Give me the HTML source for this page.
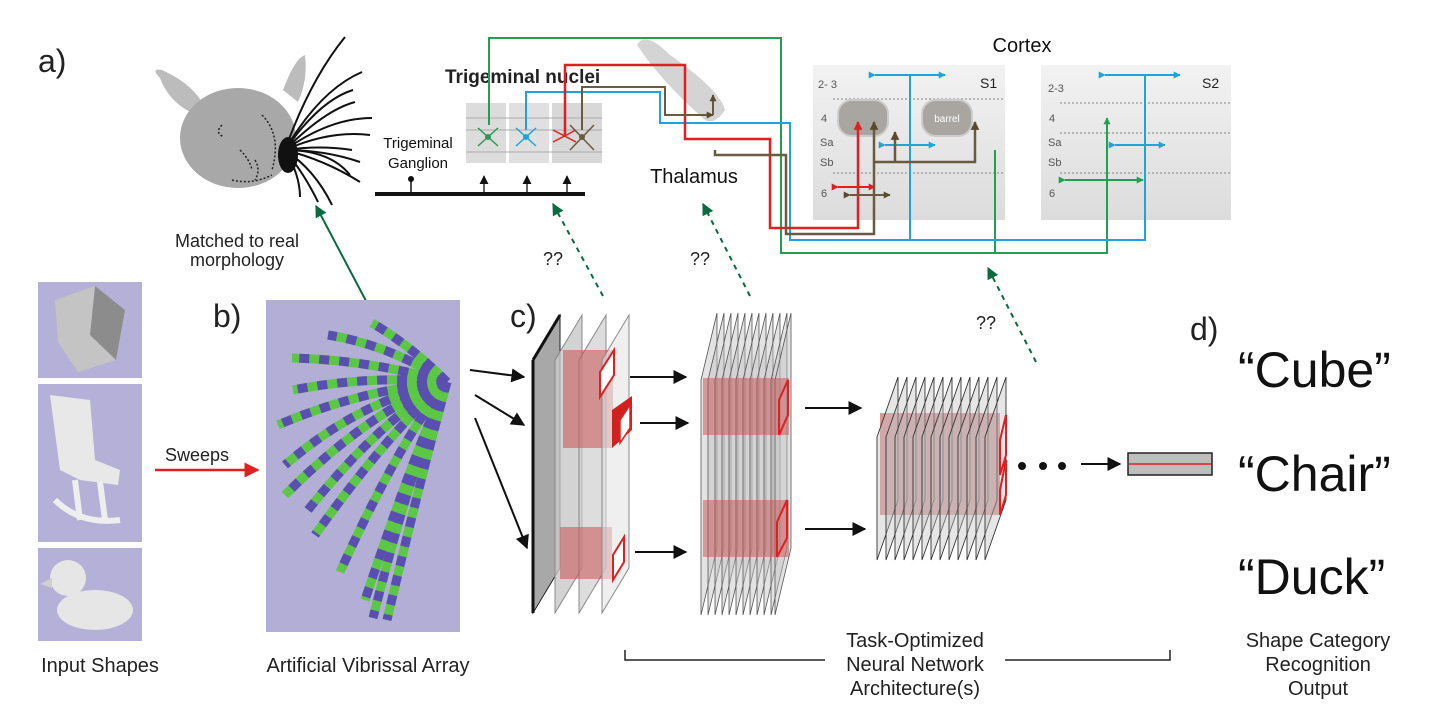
<!DOCTYPE html>
<html><head><meta charset="utf-8"><style>
html,body{margin:0;padding:0;background:#fff;}
svg{display:block;font-family:"Liberation Sans",Arial,sans-serif;}
</style></head><body>
<svg width="1436" height="722" viewBox="0 0 1436 722" xmlns="http://www.w3.org/2000/svg">
<defs>
<marker id="ak" viewBox="0 0 10 10" refX="9" refY="5" markerWidth="7" markerHeight="7" orient="auto"><path d="M0,0L10,5L0,10z" fill="#111"/></marker>
<marker id="ar" viewBox="0 0 10 10" refX="9" refY="5" markerWidth="6" markerHeight="6" orient="auto"><path d="M0,0L10,5L0,10z" fill="#e02020"/></marker>
<marker id="ag" viewBox="0 0 10 10" refX="9" refY="5" markerWidth="6" markerHeight="6" orient="auto"><path d="M0,0L10,5L0,10z" fill="#0a6a40"/></marker>
<marker id="ab" viewBox="0 0 10 10" refX="9" refY="5" markerWidth="3.5" markerHeight="3.5" orient="auto"><path d="M0,0L10,5L0,10z" fill="#1fa3d8"/></marker>
<marker id="abr" viewBox="0 0 10 10" refX="9" refY="5" markerWidth="3.5" markerHeight="3.5" orient="auto"><path d="M0,0L10,5L0,10z" fill="#5a4a30"/></marker>
<marker id="agr" viewBox="0 0 10 10" refX="9" refY="5" markerWidth="3.5" markerHeight="3.5" orient="auto"><path d="M0,0L10,5L0,10z" fill="#20a050"/></marker>
<marker id="arr" viewBox="0 0 10 10" refX="9" refY="5" markerWidth="3.5" markerHeight="3.5" orient="auto"><path d="M0,0L10,5L0,10z" fill="#e02020"/></marker>
<linearGradient id="cg" x1="0" y1="0" x2="0" y2="1"><stop offset="0" stop-color="#f2f2f2"/><stop offset="1" stop-color="#dcdcdc"/></linearGradient>
</defs>

<text x="38" y="72" font-size="32" fill="#222">a)</text>

<!-- rat head -->
<path d="M160,78 Q150,68 162,70 Q195,85 205,108 L190,112 Q168,100 160,78z" fill="#bcbcbc"/>
<path d="M283,90 Q295,58 305,55 Q308,80 298,102z" fill="#bcbcbc"/>
<ellipse cx="238" cy="138" rx="58" ry="50" fill="#a8a8a8"/>
<g stroke="#222" stroke-width="1.5" stroke-dasharray="2 2" fill="none">
<path d="M222,125 q-8,8 2,12 M240,150 q10,10 12,20 M255,160 q6,10 0,20 M262,115 q20,20 10,55 M232,180 q20,5 40,-5"/>
</g>
<g stroke="#111" stroke-width="2" fill="none">
<path d="M285,150 Q310,80 345,37"/><path d="M285,150 Q320,90 362,72"/><path d="M285,150 Q320,100 353,90"/>
<path d="M285,150 Q325,110 355,102"/><path d="M285,150 Q330,118 372,118"/><path d="M285,150 Q330,130 370,135"/>
<path d="M285,150 Q320,145 352,150"/><path d="M285,150 Q325,150 360,162"/><path d="M285,150 Q325,160 360,182"/>
<path d="M285,150 Q315,170 332,205"/><path d="M285,150 Q305,175 318,202"/><path d="M285,150 Q300,175 300,197"/>
<path d="M285,150 Q330,150 350,175"/>
</g>
<ellipse cx="288" cy="155" rx="10" ry="18" fill="#111"/>

<text x="237" y="247" font-size="18" text-anchor="middle" fill="#222">Matched to real</text>
<text x="237" y="266" font-size="18" text-anchor="middle" fill="#222">morphology</text>
<line x1="375" y1="318" x2="316" y2="206" stroke="#0a6a40" stroke-width="2" marker-end="url(#ag)"/>

<text x="445" y="83" font-size="19" font-weight="bold" fill="#222">Trigeminal nuclei</text>
<rect x="466" y="103" width="40" height="60" fill="#dcdcdc"/>
<rect x="509" y="103" width="40" height="60" fill="#e0e0e0"/>
<rect x="552" y="103" width="50" height="60" fill="#d8d8d8"/>
<g stroke="#aaa" stroke-width="1"><line x1="466" y1="118" x2="602" y2="118"/><line x1="466" y1="130" x2="602" y2="130"/><line x1="466" y1="152" x2="602" y2="152"/></g>
<text x="418" y="148" font-size="15" text-anchor="middle" fill="#111">Trigeminal</text>
<text x="418" y="168" font-size="15" text-anchor="middle" fill="#111">Ganglion</text>
<rect x="375" y="192" width="210" height="4" fill="#111"/>
<line x1="411" y1="192" x2="411" y2="180" stroke="#111" stroke-width="1.5"/><circle cx="411" cy="179" r="3" fill="#111"/>
<g stroke="#111" stroke-width="1.3" marker-end="url(#ak)"><line x1="484" y1="192" x2="484" y2="176"/><line x1="527" y1="192" x2="527" y2="176"/><line x1="567" y1="192" x2="567" y2="176"/></g>
<g stroke="#2a9a55" stroke-width="1.5"><line x1="478" y1="128" x2="498" y2="146"/><line x1="498" y1="128" x2="478" y2="146"/></g><circle cx="488" cy="137" r="3" fill="#2a9a55"/>
<g stroke="#1fa3d8" stroke-width="1.5"><line x1="516" y1="128" x2="536" y2="146"/><line x1="536" y1="128" x2="516" y2="146"/></g><circle cx="526" cy="137" r="3" fill="#1fa3d8"/>
<g stroke="#e02020" stroke-width="1.5"><line x1="553" y1="130" x2="576" y2="142"/><line x1="553" y1="142" x2="576" y2="130"/></g>
<g stroke="#6a5a40" stroke-width="1.5"><line x1="570" y1="125" x2="594" y2="150"/><line x1="594" y1="125" x2="570" y2="150"/></g><circle cx="582" cy="137" r="3" fill="#6a5a40"/>

<path d="M637,45 Q645,30 670,55 Q720,90 725,110 Q715,125 705,120 Q660,80 637,45z" fill="#d4d4d4"/>
<text x="694" y="183" font-size="20" text-anchor="middle" fill="#111">Thalamus</text>
<text x="1022" y="52" font-size="20" text-anchor="middle" fill="#111">Cortex</text>

<rect x="813" y="65" width="192" height="155" fill="url(#cg)"/>
<rect x="1041" y="65" width="190" height="155" fill="url(#cg)"/>
<g stroke="#999" stroke-width="1.3" stroke-dasharray="2 2">
<line x1="833" y1="99" x2="1005" y2="99"/><line x1="833" y1="173" x2="1005" y2="173"/>
<line x1="1060" y1="103" x2="1231" y2="103"/><line x1="1060" y1="133" x2="1231" y2="133"/><line x1="1060" y1="173" x2="1231" y2="173"/>
</g>
<g font-size="11" fill="#555">
<text x="818" y="88">2- 3</text><text x="821" y="122">4</text><text x="820" y="146">Sa</text><text x="820" y="166">Sb</text><text x="821" y="197">6</text>
<text x="1048" y="92">2-3</text><text x="1049" y="122">4</text><text x="1048" y="146">Sa</text><text x="1048" y="166">Sb</text><text x="1049" y="197">6</text>
</g>
<text x="980" y="88" font-size="14" fill="#222">S1</text>
<text x="1202" y="88" font-size="14" fill="#222">S2</text>
<rect x="838" y="100" width="50" height="36" rx="14" fill="#a9a5a0" stroke="#ccc" stroke-width="2"/>
<rect x="922" y="100" width="50" height="36" rx="14" fill="#a9a5a0" stroke="#ccc" stroke-width="2"/>
<text x="947" y="122" font-size="10" text-anchor="middle" fill="#fff">barrel</text>

<g fill="none" stroke-width="2">
<path d="M489,125 V38 H781 V253 H1107 V118" stroke="#20a050" marker-end="url(#agr)"/>
<path d="M995,253 V150" stroke="#20a050"/>
<path d="M1065,180 H1143" stroke="#20a050" marker-start="url(#agr)" marker-end="url(#agr)"/>
<path d="M526,130 V92 H660 V123 H790 V240 H1145 V75" stroke="#1fa3d8"/>
<path d="M910,240 V75" stroke="#1fa3d8"/>
<path d="M875,75 H945" stroke="#1fa3d8" marker-start="url(#ab)" marker-end="url(#ab)"/>
<path d="M1105,75 H1180" stroke="#1fa3d8" marker-start="url(#ab)" marker-end="url(#ab)"/>
<path d="M885,145 H935" stroke="#1fa3d8" marker-start="url(#ab)" marker-end="url(#ab)"/>
<path d="M1115,145 H1165" stroke="#1fa3d8" marker-start="url(#ab)" marker-end="url(#ab)"/>
<path d="M565,135 V65 H685 V139 H770 V228 H858 V122" stroke="#e02020" stroke-width="2.5" marker-end="url(#arr)"/>
<path d="M838,187 H875" stroke="#e02020" marker-start="url(#arr)" marker-end="url(#arr)"/>
<path d="M582,130 V87 H665 V115 H713" stroke="#6a5a40" marker-end="url(#abr)"/>
<path d="M713,115 V95" stroke="#6a5a40" marker-end="url(#abr)"/>
<path d="M715,150 V155 H786 V234 H874 V122" stroke="#6a5a40" stroke-width="2.5" marker-end="url(#abr)"/>
<path d="M874,162 H975 V122" stroke="#6a5a40" stroke-width="2.5" marker-end="url(#abr)"/>
<path d="M895,162 V132" stroke="#6a5a40" stroke-width="2.5" marker-end="url(#abr)"/>
<path d="M850,195 H890" stroke="#6a5a40" marker-start="url(#abr)" marker-end="url(#abr)"/>
</g>

<g stroke="#0a6a40" stroke-width="2" stroke-dasharray="5 5" marker-end="url(#ag)">
<line x1="603" y1="296" x2="553" y2="204"/><line x1="750" y1="296" x2="703" y2="204"/><line x1="1036" y1="362" x2="988" y2="268"/>
</g>
<g font-size="18" fill="#222"><text x="543" y="265">??</text><text x="690" y="265">??</text><text x="976" y="329">??</text></g>

<rect x="38" y="282" width="104" height="96" fill="#b4b0d8"/>
<path d="M55,300 L95,286 L125,310 L116,360 L78,372 L58,342z" fill="#c4c4c4"/>
<path d="M95,286 L125,310 L116,360 L90,335z" fill="#8c8c8c"/>
<rect x="38" y="384" width="104" height="158" fill="#b4b0d8"/>
<path d="M50,395 L90,400 L95,460 L120,470 L118,485 L80,480 L60,470 Z" fill="#e8e8e8"/>
<path d="M55,500 Q80,525 120,520 M75,480 L80,520 M100,482 L105,520" stroke="#eee" stroke-width="6" fill="none"/>
<rect x="38" y="548" width="104" height="93" fill="#b4b0d8"/>
<ellipse cx="95" cy="610" rx="38" ry="20" fill="#e6e6e6"/><circle cx="68" cy="578" r="18" fill="#e6e6e6"/>
<path d="M52,578 L40,584 L52,588z" fill="#d0d0d0"/>
<text x="100" y="672" font-size="20" text-anchor="middle" fill="#222">Input Shapes</text>

<line x1="155" y1="470" x2="258" y2="470" stroke="#e02020" stroke-width="2.5" marker-end="url(#ar)"/>
<text x="197" y="461" font-size="18" text-anchor="middle" fill="#222">Sweeps</text>

<text x="213" y="327" font-size="32" fill="#222">b)</text>
<rect x="266" y="300" width="194" height="332" fill="#b3aed6"/>
<g fill="none" stroke-width="9" stroke-linecap="butt">
<g stroke="#5cc744">
<path d="M447,382 Q410,345 372,323"/><path d="M447,382 Q390,345 328,335"/><path d="M447,382 Q370,360 292,358"/>
<path d="M447,382 Q370,375 293,390"/><path d="M447,382 Q360,390 278,425"/><path d="M447,382 Q360,400 285,465"/>
<path d="M447,382 Q370,410 285,495"/><path d="M447,382 Q380,420 308,510"/><path d="M447,382 Q390,430 315,535"/>
<path d="M447,382 Q400,440 340,572"/><path d="M447,382 Q415,450 365,600"/><path d="M447,382 Q410,470 373,618"/><path d="M447,382 Q420,480 387,620"/>
</g>
<g stroke="#5a4fb0" stroke-dasharray="10 10">
<path d="M447,382 Q410,345 372,323"/><path d="M447,382 Q390,345 328,335"/><path d="M447,382 Q370,360 292,358"/>
<path d="M447,382 Q370,375 293,390"/><path d="M447,382 Q360,390 278,425"/><path d="M447,382 Q360,400 285,465"/>
<path d="M447,382 Q370,410 285,495"/><path d="M447,382 Q380,420 308,510"/><path d="M447,382 Q390,430 315,535"/>
<path d="M447,382 Q400,440 340,572"/><path d="M447,382 Q415,450 365,600"/><path d="M447,382 Q410,470 373,618"/><path d="M447,382 Q420,480 387,620"/>
</g></g>
<text x="368" y="672" font-size="20" text-anchor="middle" fill="#222">Artificial Vibrissal Array</text>

<text x="510" y="327" font-size="32" fill="#222">c)</text>
<g stroke="#111" stroke-width="2" marker-end="url(#ak)">
<line x1="470" y1="370" x2="524" y2="377"/><line x1="475" y1="395" x2="524" y2="425"/><line x1="475" y1="418" x2="527" y2="548"/>
</g>
<path d="M533,360 L560,315 L560,568 L533,613z" fill="#a8a8a8" stroke="#222" stroke-width="1"/>
<line x1="533" y1="360" x2="533" y2="613" stroke="#111" stroke-width="3"/>
<line x1="533" y1="360" x2="560" y2="315" stroke="#111" stroke-width="3"/>
<path d="M555,360 L582,315 L582,568 L555,613z" fill="#c8c8c8" fill-opacity=".8" stroke="#888"/>
<path d="M579,360 L606,315 L606,568 L579,613z" fill="#cfcfcf" fill-opacity=".7" stroke="#888"/>
<rect x="563" y="350" width="50" height="98" fill="#c85050" fill-opacity=".55"/>
<rect x="560" y="527" width="52" height="52" fill="#c85050" fill-opacity=".55"/>
<path d="M602,360 L629,315 L629,568 L602,613z" fill="#e4e4e4" fill-opacity=".6" stroke="#888"/>
<path d="M600,372 L614,350 L614,375 L600,397z" fill="#fff" stroke="#e02020" stroke-width="2"/>
<path d="M612,410 L632,396 L632,430 L612,448 z" fill="#d02020"/>
<path d="M620,420 L630,405 L630,428 L620,443z" fill="#fff" stroke="#e02020" stroke-width="1.5"/>
<path d="M613,555 L624,537 L624,562 L613,580z" fill="#fff" stroke="#e02020" stroke-width="2"/>
<g stroke="#111" stroke-width="2" marker-end="url(#ak)">
<line x1="630" y1="377" x2="686" y2="377"/><line x1="640" y1="423" x2="688" y2="423"/><line x1="635" y1="552" x2="686" y2="552"/>
</g>
<g fill="#c0c0c0" fill-opacity=".45" stroke="#555" stroke-width="0.8">
<path d="M701,380 L717,313 L717,548 L701,615z"/><path d="M708,380 L724,313 L724,548 L708,615z"/><path d="M715,380 L731,313 L731,548 L715,615z"/><path d="M722,380 L738,313 L738,548 L722,615z"/><path d="M729,380 L745,313 L745,548 L729,615z"/><path d="M736,380 L752,313 L752,548 L736,615z"/><path d="M743,380 L759,313 L759,548 L743,615z"/><path d="M750,380 L766,313 L766,548 L750,615z"/><path d="M757,380 L773,313 L773,548 L757,615z"/><path d="M764,380 L780,313 L780,548 L764,615z"/><path d="M771,380 L787,313 L787,548 L771,615z"/><path d="M775,380 L791,313 L791,548 L775,615z"/>
</g>
<rect x="703" y="378" width="86" height="57" fill="#c85050" fill-opacity=".5"/>
<rect x="703" y="500" width="86" height="57" fill="#c85050" fill-opacity=".5"/>
<path d="M779,400 L788,380 L788,415 L779,435z" fill="none" stroke="#e02020" stroke-width="2"/>
<path d="M777,522 L787,500 L787,538 L777,557z" fill="none" stroke="#e02020" stroke-width="2"/>
<g stroke="#111" stroke-width="2" marker-end="url(#ak)">
<line x1="805" y1="408" x2="861" y2="408"/><line x1="805" y1="529" x2="865" y2="529"/>
</g>
<rect x="880" y="413" width="120" height="102" fill="#c85050" fill-opacity=".6"/>
<g fill="#c0c0c0" fill-opacity=".4" stroke="#333" stroke-width="0.9">
<path d="M877,437 L898,377 L898,500 L877,560z"/><path d="M886,437 L907,377 L907,500 L886,560z"/><path d="M895,437 L916,377 L916,500 L895,560z"/><path d="M904,437 L925,377 L925,500 L904,560z"/><path d="M913,437 L934,377 L934,500 L913,560z"/><path d="M922,437 L943,377 L943,500 L922,560z"/><path d="M931,437 L952,377 L952,500 L931,560z"/><path d="M940,437 L961,377 L961,500 L940,560z"/><path d="M949,437 L970,377 L970,500 L949,560z"/><path d="M958,437 L979,377 L979,500 L958,560z"/><path d="M967,437 L988,377 L988,500 L967,560z"/><path d="M976,437 L997,377 L997,500 L976,560z"/><path d="M985,437 L1006,377 L1006,500 L985,560z"/>
</g>
<path d="M1000,440 L1006,415 L1006,455 L1000,475z M1000,490 L1006,460 L1006,495 L1000,515z" fill="none" stroke="#e02020" stroke-width="2"/>
<g fill="#111"><circle cx="1022" cy="466" r="4"/><circle cx="1043" cy="466" r="4"/><circle cx="1062" cy="466" r="4"/></g>
<line x1="1081" y1="464" x2="1120" y2="464" stroke="#111" stroke-width="2" marker-end="url(#ak)"/>
<rect x="1128" y="453" width="84" height="22" fill="#bdbdbd" stroke="#222" stroke-width="1.5"/>
<line x1="1129" y1="464" x2="1211" y2="464" stroke="#e02020" stroke-width="1.5"/>

<text x="1190" y="340" font-size="32" fill="#222">d)</text>
<g font-size="50" fill="#111">
<text x="1238" y="387">“Cube”</text><text x="1238" y="491">“Chair”</text><text x="1238" y="594">“Duck”</text>
</g>

<path d="M625,650 V660 H1170 V650" fill="none" stroke="#222" stroke-width="1.5"/>
<rect x="825" y="628" width="180" height="72" fill="#fff"/>
<g font-size="20" text-anchor="middle" fill="#222">
<text x="915" y="647">Task-Optimized</text><text x="915" y="671">Neural Network</text><text x="915" y="695">Architecture(s)</text>
<text x="1318" y="647">Shape Category</text><text x="1318" y="671">Recognition</text><text x="1318" y="695">Output</text>
</g>
</svg>
</body></html>
